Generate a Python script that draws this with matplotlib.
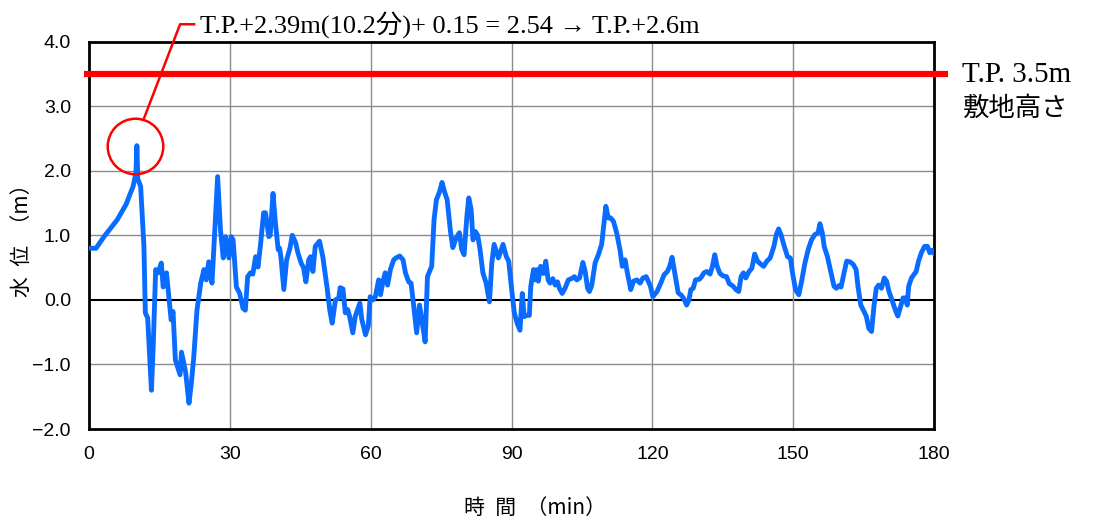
import numpy as np
import matplotlib
matplotlib.use('Agg')
import matplotlib.pyplot as plt

plt.rcParams['font.family'] = ['Liberation Sans', 'Noto Sans CJK JP', 'DejaVu Sans']

# time (min) and water level (m)
t_min = [0, 1.5, 3.2, 6.0, 7.9, 9.4, 10.0, 10.2, 10.4, 11.0, 11.7, 12.0, 12.5, 13.3, 13.7,
         14.2, 14.7, 15.4, 15.8, 16.5, 17.5, 17.9, 18.4, 19.4, 19.7, 20.2, 20.6, 21.3, 21.8,
         22.3, 23.0, 23.8, 24.5, 25.0, 25.5, 26.2, 26.8, 27.4, 28.0, 28.6, 29.1, 29.8, 30.3,
         30.7, 31.4, 32.1, 32.8, 33.3, 33.8, 34.4, 34.9, 35.5, 36.0, 36.5, 37.2, 37.6, 38.3,
         38.6, 39.2, 39.7, 40.3, 40.6, 40.9, 41.5, 42.1, 42.8, 43.3, 44.0, 44.5, 45.2, 45.7,
         46.2, 46.8, 47.2, 47.7, 48.2, 49.1, 49.8, 50.7, 51.3, 51.8, 52.5, 53.2, 53.5, 54.1,
         54.6, 55.1, 55.5, 56.2, 56.7, 57.7, 58.1, 58.9, 59.5, 59.9, 60.5, 61.0, 61.7, 62.1,
         62.6, 63.1, 63.6, 64.2, 64.9, 65.4, 66.2, 66.9, 67.4, 68.1, 68.6, 69.1, 69.8, 70.4,
         70.9, 71.6, 72.1, 72.7, 73.0, 73.5, 74.0, 74.7, 75.2, 75.8, 76.3, 77.0, 77.5, 78.2,
         78.9, 79.4, 79.9, 80.5, 80.9, 81.4, 81.8, 82.3, 82.8, 83.3, 83.9, 84.6, 85.3, 85.8,
         86.3, 87.2, 88.2, 88.9, 89.4, 90.1, 90.6, 91.2, 91.8, 92.3, 92.7, 93.2, 93.8, 94.1,
         94.7, 95.0, 95.4, 95.7, 96.2, 96.8, 97.3, 97.8, 98.2, 98.8, 99.3, 99.8, 100.2, 100.8,
         101.4, 102.1, 102.8, 103.4, 103.9, 104.5, 105.2, 105.7, 106.2, 106.6, 107.1, 107.8,
         108.5, 109.2, 109.7, 110.1, 110.6, 111.1, 111.7, 112.4, 113.1, 113.6, 114.2, 114.7,
         115.4, 116.0, 116.7, 117.4, 118.0, 118.7, 119.6, 120.1, 121.0, 121.8, 122.5, 123.2,
         123.7, 124.2, 124.9, 125.5, 126.2, 126.7, 127.3, 127.8, 128.2, 128.7, 129.2, 130.0,
         130.5, 131.0, 131.6, 132.3, 132.8, 133.3, 133.8, 134.4, 135.1, 135.8, 136.4, 137.1,
         137.8, 138.4, 138.9, 139.4, 139.9, 140.6, 141.2, 141.8, 142.4, 143.0, 143.7, 144.4,
         145.1, 145.9, 146.4, 146.9, 147.4, 148.1, 148.8, 149.4, 149.9, 150.5, 151.2, 151.8,
         152.5, 153.2, 153.9, 154.6, 155.3, 155.7, 156.2, 156.6, 157.3, 158.0, 158.7, 159.2,
         159.7, 160.2, 160.9, 161.4, 162.1, 162.8, 163.4, 163.8, 164.4, 165.1, 165.6, 166.1,
         166.7, 167.2, 167.7, 168.2, 168.8, 169.4, 169.9, 170.4, 170.9, 171.5, 172.0, 172.3,
         172.9, 173.4, 173.9, 174.3, 174.6, 175.2, 175.7, 176.2, 176.7, 177.3, 178.0, 178.6,
         179.1, 179.6, 180.0]
level = [0.80, 0.80, 0.98, 1.24, 1.48, 1.76, 1.97, 2.39, 1.87, 1.76, 0.83, -0.20, -0.28, -1.40, -0.67,
         0.47, 0.42, 0.57, 0.20, 0.42, -0.31, -0.18, -0.93, -1.16, -0.81, -0.98, -1.13, -1.60, -1.29,
         -0.90, -0.16, 0.26, 0.47, 0.31, 0.59, 0.26, 1.09, 1.91, 1.09, 0.65, 0.98, 0.65, 0.98,
         0.93, 0.20, 0.10, -0.13, -0.16, 0.36, 0.42, 0.40, 0.67, 0.51, 0.83, 1.35, 1.35, 0.98,
         1.00, 1.65, 1.20, 0.78, 0.80, 0.65, 0.16, 0.62, 0.80, 1.00, 0.89, 0.73, 0.57, 0.50,
         0.28, 0.62, 0.67, 0.44, 0.83, 0.91, 0.67, 0.20, -0.16, -0.36, 0.00, 0.03, 0.19, 0.17,
         -0.20, -0.15, -0.25, -0.51, -0.26, -0.05, -0.30, -0.54, -0.40, 0.05, 0.00, 0.05, 0.31, 0.08,
         0.28, 0.42, 0.23, 0.47, 0.62, 0.65, 0.68, 0.62, 0.42, 0.28, 0.26, -0.05, -0.51, -0.08,
         -0.31, -0.65, 0.36, 0.47, 0.52, 1.24, 1.55, 1.68, 1.82, 1.66, 1.55, 1.06, 0.81, 0.96,
         1.04, 0.78, 0.70, 1.30, 1.58, 1.40, 0.93, 1.06, 1.00, 0.78, 0.42, 0.26, -0.03, 0.57,
         0.86, 0.65, 0.86, 0.67, 0.60, 0.12, -0.20, -0.36, -0.47, 0.10, -0.26, -0.24, -0.24, 0.21,
         0.47, 0.31, 0.47, 0.29, 0.52, 0.41, 0.60, 0.31, 0.26, 0.33, 0.23, 0.28, 0.18, 0.10,
         0.18, 0.31, 0.33, 0.36, 0.31, 0.34, 0.58, 0.44, 0.18, 0.13, 0.23, 0.57,
         0.70, 0.86, 1.19, 1.45, 1.27, 1.27, 1.22, 1.04, 0.78, 0.52, 0.62, 0.41,
         0.16, 0.29, 0.31, 0.26, 0.34, 0.36, 0.21, 0.05, 0.13, 0.26, 0.39, 0.44,
         0.52, 0.66, 0.36, 0.11, 0.07, 0.02, -0.08, 0.00, 0.16, 0.18, 0.31, 0.32,
         0.36, 0.42, 0.44, 0.40, 0.52, 0.70, 0.52, 0.41, 0.37, 0.36, 0.25, 0.22,
         0.16, 0.13, 0.36, 0.42, 0.34, 0.44, 0.49, 0.71, 0.60, 0.56, 0.52, 0.60,
         0.65, 0.83, 1.01, 1.10, 1.01, 0.83, 0.67, 0.65, 0.40, 0.16, 0.08, 0.29,
         0.57, 0.78, 0.93, 1.01, 1.04, 1.18, 1.04, 0.83, 0.67, 0.44, 0.21, 0.18,
         0.22, 0.20, 0.44, 0.60, 0.59, 0.55, 0.47, 0.21, -0.08, -0.18, -0.26, -0.44,
         -0.49, -0.10, 0.18, 0.23, 0.18, 0.34, 0.29, 0.13, 0.03, -0.10, -0.20, -0.25,
         -0.10, 0.03, 0.03, -0.08, 0.21, 0.34, 0.39, 0.44, 0.60, 0.73, 0.83, 0.83,
         0.73, 0.77, 0.72]

site_level = 3.5
peak_t = 10.2
peak_level = 2.39
x_ticks = [0, 30, 60, 90, 120, 150, 180]
y_ticks = [-2.0, -1.0, 0.0, 1.0, 2.0, 3.0, 4.0]
note = 'T.P.+2.39m(10.2分)+ 0.15 = 2.54 → T.P.+2.6m'

fig = plt.figure(figsize=(10.96, 5.18), dpi=100)
ax = fig.add_axes([0.0812, 0.1718, 0.7710, 0.7477])

for yv in y_ticks[1:-1]:
    if yv == 0:
        ax.axhline(yv, color='black', lw=1.5, zorder=1)
    else:
        ax.axhline(yv, color='#8c8c8c', lw=1.0, zorder=1)
for xv in x_ticks[1:-1]:
    ax.axvline(xv, color='#8c8c8c', lw=1.0, zorder=1)

ax.plot(t_min, level, color='#0a6cff', lw=3.5, solid_joinstyle='round',
        solid_capstyle='round', zorder=3)

# site elevation line, sticks out past the frame a bit
ax.plot([-1.0, 183.0], [site_level, site_level], color='#ff0000', lw=4.5,
        clip_on=False, zorder=4, solid_capstyle='butt')

# circle and leader to the note
ax.plot([9.7], [peak_level], marker='o', ms=40, mfc='none', mec='#ff0000', mew=1.8,
        clip_on=False, zorder=5)
ax.plot([11.6, 19.4, 22.4], [2.79, 4.27, 4.27], color='#ff0000', lw=1.8,
        clip_on=False, zorder=5)
ax.text(23.6, 4.27, note, ha='left', va='center', fontsize=19,
        family=['Liberation Serif', 'Noto Sans CJK JP', 'DejaVu Serif'])

fig.text(0.878, 0.855, 'T.P. 3.5m', ha='left', va='center', fontsize=21,
         family=['Liberation Serif', 'DejaVu Serif'])
fig.text(0.879, 0.790, '敷地高さ', ha='left', va='center', fontsize=19,
         family=['Noto Sans CJK JP'])

ax.set_xlim(0, 180)
ax.set_ylim(-2.0, 4.0)
ax.set_xticks(x_ticks)
ax.set_yticks(y_ticks)
ax.set_yticklabels(['%.1f' % v if v >= 0 else '\u2212%.1f' % abs(v) for v in y_ticks])
ax.tick_params(axis='both', length=0, labelsize=14)
ax.tick_params(axis='y', pad=13)
ax.tick_params(axis='x', pad=12)

for s in ax.spines.values():
    s.set_linewidth(2.0)
    s.set_color('black')

ax.set_ylabel('水\u2002位\u2002（m）', fontsize=15, family=['Noto Sans CJK JP'])
ax.yaxis.set_label_coords(-0.066, 0.5)
ax.set_xlabel('時\u2002間\u2002（min）', fontsize=15, family=['Noto Sans CJK JP'])
ax.xaxis.set_label_coords(0.528, -0.176)

fig.savefig('out.png', dpi=100)
